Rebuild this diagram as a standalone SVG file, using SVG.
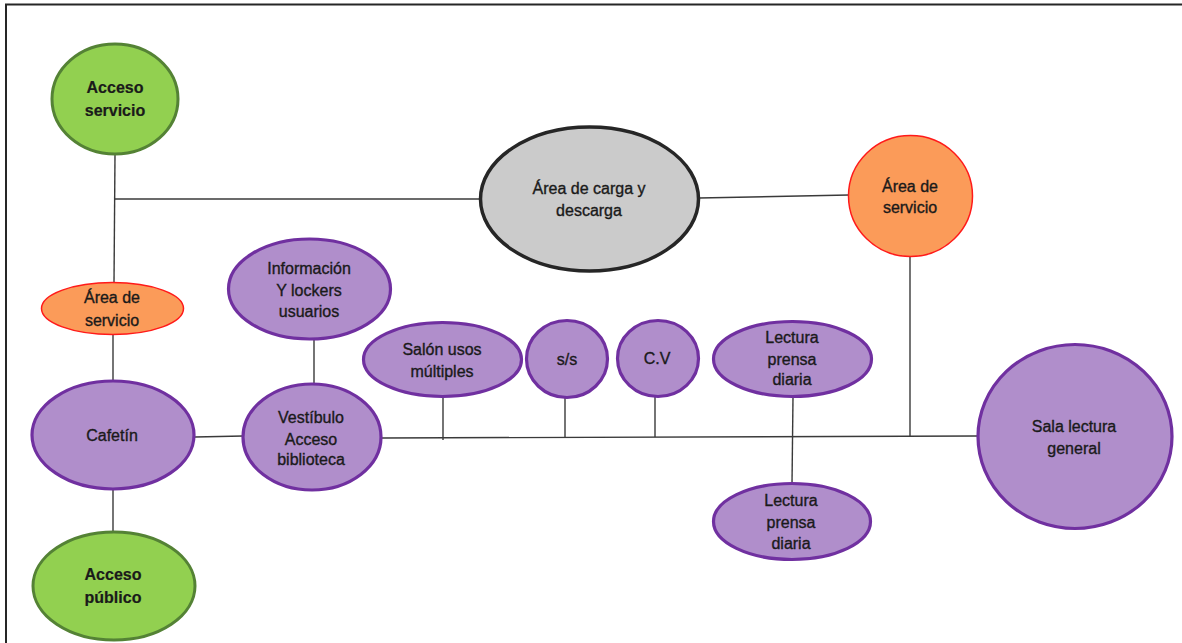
<svg xmlns="http://www.w3.org/2000/svg" width="1182" height="643" viewBox="0 0 1182 643">
<style>
  .frame { fill: none; stroke: #262626; stroke-width: 2; }
  .conn line { stroke: #3a3a3a; stroke-width: 1.4; }
  .green { fill: #92d050; stroke: #548235; stroke-width: 3; }
  .orange { fill: #fb9b59; stroke: #ff1a1a; stroke-width: 1.5; }
  .purple { fill: #b08ecb; stroke: #7030a0; stroke-width: 3.2; }
  .gray { fill: #cbcbcb; stroke: #262626; stroke-width: 3.5; }
  text { font-family: "Liberation Sans", Arial, sans-serif; font-size: 16px; fill: #1a1a1a; stroke: #1a1a1a; stroke-width: 0.35; text-anchor: middle; }
  .b { font-weight: bold; stroke-width: 0.2; }
</style>
<rect x="0" y="0" width="1182" height="643" fill="#ffffff"/>
<path class="frame" d="M6 650 V4.5 H1190"/>

<g id="connectors" class="conn">
  <line x1="115" y1="155" x2="114" y2="283"/>
  <line x1="114" y1="199" x2="480" y2="199"/>
  <line x1="699" y1="198" x2="849" y2="195"/>
  <line x1="113" y1="335" x2="113" y2="381"/>
  <line x1="113" y1="488" x2="113" y2="532"/>
  <line x1="195" y1="437" x2="243" y2="436"/>
  <line x1="314" y1="340" x2="314" y2="384"/>
  <line x1="382" y1="438" x2="977" y2="436"/>
  <line x1="443" y1="397" x2="443" y2="440"/>
  <line x1="565" y1="398" x2="565" y2="437"/>
  <line x1="655" y1="397" x2="655" y2="437"/>
  <line x1="793" y1="397" x2="792" y2="484"/>
  <line x1="910" y1="257" x2="910" y2="436"/>
</g>

<g id="acceso-servicio">
  <ellipse class="green" cx="115" cy="99" rx="63" ry="55"/>
  <text class="b" x="115" y="93">Acceso</text>
  <text class="b" x="115" y="116">servicio</text>
</g>

<g id="area-carga">
  <ellipse class="gray" cx="589.5" cy="199" rx="109" ry="72"/>
  <text x="589" y="194">Área de carga y</text>
  <text x="589" y="216">descarga</text>
</g>

<g id="area-servicio-der">
  <ellipse class="orange" cx="910.5" cy="196" rx="62" ry="60.5"/>
  <text x="910" y="192">Área de</text>
  <text x="910" y="213">servicio</text>
</g>

<g id="area-servicio-izq">
  <ellipse class="orange" cx="112.5" cy="308.5" rx="71" ry="26"/>
  <text x="112" y="303">Área de</text>
  <text x="112" y="326">servicio</text>
</g>

<g id="informacion">
  <ellipse class="purple" cx="309.5" cy="289" rx="81" ry="50"/>
  <text x="309" y="274">Información</text>
  <text x="309" y="296">Y lockers</text>
  <text x="309" y="317">usuarios</text>
</g>

<g id="cafetin">
  <ellipse class="purple" cx="113" cy="435" rx="81" ry="54"/>
  <text x="112" y="441">Cafetín</text>
</g>

<g id="vestibulo">
  <ellipse class="purple" cx="312" cy="437" rx="69" ry="53"/>
  <text x="311" y="423">Vestíbulo</text>
  <text x="311" y="445">Acceso</text>
  <text x="311" y="465">biblioteca</text>
</g>

<g id="salon-usos">
  <ellipse class="purple" cx="442.5" cy="359.5" rx="79" ry="37"/>
  <text x="442" y="355">Salón usos</text>
  <text x="442" y="377">múltiples</text>
</g>

<g id="ss">
  <ellipse class="purple" cx="567" cy="359" rx="40.5" ry="38.5"/>
  <text x="567" y="365">s/s</text>
</g>

<g id="cv">
  <ellipse class="purple" cx="658" cy="358.5" rx="40.5" ry="38"/>
  <text x="657" y="364">C.V</text>
</g>

<g id="lectura-prensa-1">
  <ellipse class="purple" cx="792.5" cy="359" rx="79" ry="37.5"/>
  <text x="792" y="343">Lectura</text>
  <text x="792" y="365">prensa</text>
  <text x="792" y="385">diaria</text>
</g>

<g id="lectura-prensa-2">
  <ellipse class="purple" cx="792" cy="521.5" rx="78.5" ry="38"/>
  <text x="791" y="506">Lectura</text>
  <text x="791" y="528">prensa</text>
  <text x="791" y="549">diaria</text>
</g>

<g id="sala-lectura">
  <ellipse class="purple" cx="1075" cy="436.5" rx="97" ry="92"/>
  <text x="1074" y="432">Sala lectura</text>
  <text x="1074" y="454">general</text>
</g>

<g id="acceso-publico">
  <ellipse class="green" cx="114" cy="586" rx="81" ry="54"/>
  <text class="b" x="113" y="580">Acceso</text>
  <text class="b" x="113" y="603">público</text>
</g>
</svg>
